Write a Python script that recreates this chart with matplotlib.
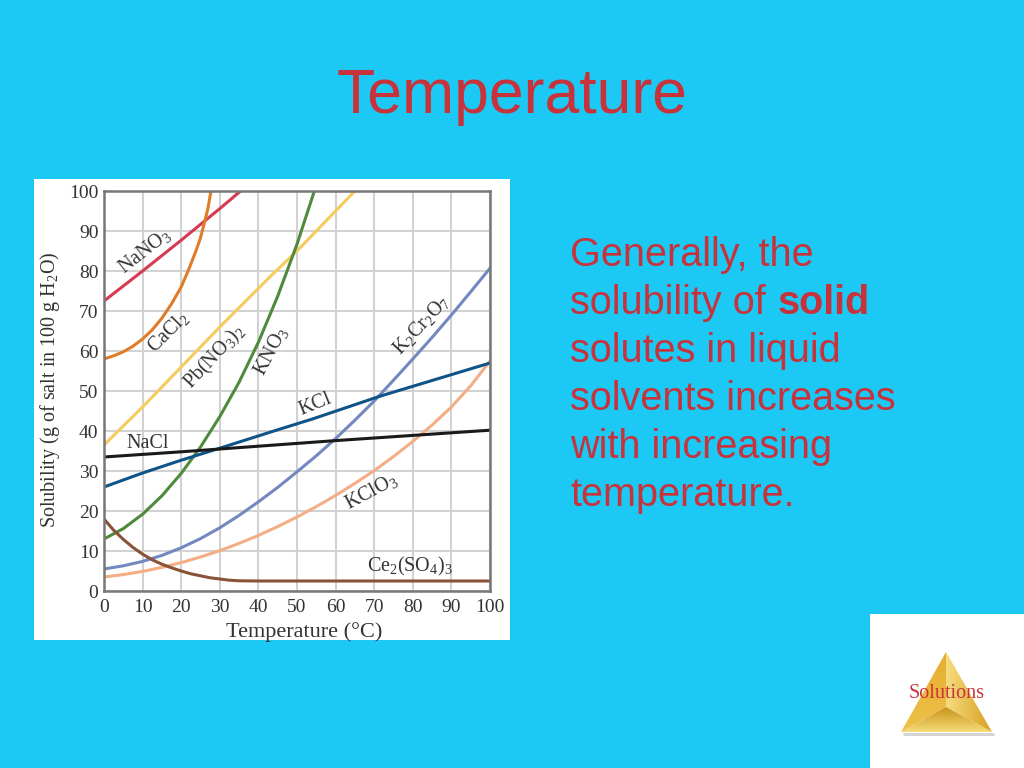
import matplotlib
matplotlib.use('Agg')
import matplotlib.pyplot as plt
import numpy as np
from matplotlib.patches import Polygon, Rectangle

plt.rcParams['mathtext.fontset'] = 'custom'
plt.rcParams['mathtext.rm'] = 'Liberation Serif'
plt.rcParams['mathtext.default'] = 'rm'

W, H = 1024, 768
BG = '#1CC8F4'
RED = '#C8323A'

# values
t_nano3 = [0, 10, 20, 30, 35.4]
s_nano3 = [72.5, 80, 87.7, 95.6, 100]
t_cacl2 = [0, 2.5, 5, 7.5, 10, 12.5, 15, 17.5, 20, 22, 24, 25, 26, 27, 27.7]
s_cacl2 = [58, 58.8, 59.8, 61.2, 63, 65.3, 68.2, 71.8, 76, 80.5, 85.5, 88.3, 92, 96, 100]
t_pb = [0, 10, 20, 30, 44, 50, 65]
s_pb = [36.5, 46, 56, 66, 79.5, 85, 100]
t_kno3 = [0, 5, 10, 15, 20, 25, 30, 35, 40, 45, 50, 54.5]
s_kno3 = [13, 15.6, 19.2, 23.8, 29.4, 36, 43.6, 52.2, 62.2, 73.7, 86.7, 100]
t_k2cr = [0, 5, 10, 15, 20, 25, 30, 35, 40, 45, 50, 55, 60, 65, 70, 75, 80, 85, 90, 95, 100]
s_k2cr = [5.5, 6.3, 7.4, 8.9, 10.8, 13.1, 15.8, 18.9, 22.3, 25.9, 29.8, 33.8, 38.1, 42.7, 47.5, 52.7, 58, 63.4, 69, 74.8, 80.7]
t_kcl = [0, 10, 20, 30, 44, 54, 71.5, 100]
s_kcl = [26, 29.5, 32.7, 35.7, 40, 43, 48.7, 57]
t_nacl = [0, 20, 40, 60, 80, 100]
s_nacl = [33.5, 34.8, 36.2, 37.6, 38.9, 40.2]
t_kclo3 = [0, 5, 10, 15, 20, 25, 30, 35, 40, 45, 50, 55, 60, 65, 70, 75, 80, 85, 90, 95, 100]
s_kclo3 = [3.5, 4.1, 4.9, 5.9, 7.1, 8.5, 10.1, 11.9, 13.9, 16.1, 18.5, 21.1, 23.9, 26.9, 30.1, 33.6, 37.4, 41.5, 46, 51.3, 57.5]
t_ce = [0, 2.5, 5, 7.5, 10, 12.5, 15, 17.5, 20, 22.5, 25, 27.5, 30, 32.5, 35, 40, 60, 80, 100]
s_ce = [18, 15.2, 12.9, 10.9, 9.2, 7.8, 6.7, 5.8, 5, 4.3, 3.8, 3.3, 3, 2.7, 2.55, 2.5, 2.5, 2.5, 2.5]

xticks = [0, 10, 20, 30, 40, 50, 60, 70, 80, 90, 100]
yticks = [0, 10, 20, 30, 40, 50, 60, 70, 80, 90, 100]

body = ['Generally, the', 'solubility of', 'solutes in liquid', 'solvents increases',
        'with increasing', 'temperature.']

fig = plt.figure(figsize=(W / 100, H / 100), dpi=100, facecolor=BG)

# full page layer, in pixels
page = fig.add_axes([0, 0, 1, 1])
page.set_xlim(0, W)
page.set_ylim(H, 0)
page.axis('off')

page.add_patch(Rectangle((34, 179), 476, 461, fc='white', ec='none'))
page.add_patch(Rectangle((870, 614), 154, 154, fc='white', ec='none'))

page.text(512, 113, 'Temperature', color=RED, fontsize=45, family='Liberation Sans',
          ha='center', va='baseline')

base = 266
for i, line in enumerate(body):
    page.text(570, base + i * 48, line, color=RED, fontsize=28.5, family='Liberation Sans',
              va='baseline')
page.text(778, 314, 'solid', color=RED, fontsize=28.5, family='Liberation Sans',
          weight='bold', va='baseline')

# pyramid logo, three facets with their own gradient
apex, left, right, mid = (946, 652), (901, 732), (992, 732), (946, 707)
page.add_patch(Polygon([(903, 733), (994, 733), (995, 736), (904, 736)], fc='#b8b8b8', ec='none', alpha=0.6, zorder=2))


def facet(pts, c1, c2, horizontal=False):
    pts = np.array(pts)
    n = 64
    ramp = np.linspace(0, 1, n)
    rgb = np.outer(1 - ramp, matplotlib.colors.to_rgb(c1)) + np.outer(ramp, matplotlib.colors.to_rgb(c2))
    img = rgb[np.newaxis, :, :] if horizontal else rgb[:, np.newaxis, :]
    x0, x1, y0, y1 = pts[:, 0].min(), pts[:, 0].max(), pts[:, 1].min(), pts[:, 1].max()
    # images sit under patches by default, the white square would hide them
    im = page.imshow(img, extent=[x0, x1, y1, y0], aspect='auto', interpolation='bilinear', zorder=3)
    poly = Polygon(pts, transform=page.transData, fc='none', ec='none')
    page.add_patch(poly)
    im.set_clip_path(poly)


facet([apex, left, mid], '#E5AE2E', '#EFC24A')
facet([apex, right, mid], '#F5DC80', '#D8A01E', horizontal=True)
facet([left, right, mid], '#C8921A', '#F6DC78')
page.set_xlim(0, W)
page.set_ylim(H, 0)

page.text(947, 698, 'Solutions', color=RED, fontsize=14.5, family='Liberation Serif',
          ha='center', va='baseline', zorder=5)

# the chart itself
ax = fig.add_axes([104 / W, 1 - 591 / H, 386 / W, 400 / H], facecolor='white')

ax.plot(t_nano3, s_nano3, color='#D63B52', lw=2.2)
ax.plot(t_cacl2, s_cacl2, color='#E07C28', lw=2.2)
ax.plot(t_pb, s_pb, color='#F6CB5E', lw=2.2)
ax.plot(t_kclo3, s_kclo3, color='#F4AE86', lw=2.2)
ax.plot(t_kno3, s_kno3, color='#4F8A3C', lw=2.2)
ax.plot(t_k2cr, s_k2cr, color='#7488C0', lw=2.2)
ax.plot(t_kcl, s_kcl, color='#0F5488', lw=2.2)
ax.plot(t_nacl, s_nacl, color='#1A1A1A', lw=2.2)
ax.plot(t_ce, s_ce, color='#8A5238', lw=2.2)

ax.set_xlim(0, 100)
ax.set_ylim(0, 100)
ax.set_xticks(xticks)
ax.set_yticks(yticks)
ax.grid(color='#D2D2D2', lw=1.5)
ax.set_axisbelow(True)
ax.tick_params(length=0, labelsize=14, labelcolor='#333333')
ax.tick_params(axis='x', pad=6)
ax.tick_params(axis='y', pad=4)
for lab in ax.get_xticklabels() + ax.get_yticklabels():
    lab.set_family('Liberation Serif')
for sp in ax.spines.values():
    sp.set_color('#777777')
    sp.set_linewidth(1.8)

ax.set_xlabel('Temperature (°C)', family='Liberation Serif', color='#333333', fontsize=16)
ax.set_ylabel('Solubility (g of salt in 100 g H$_2$O)', family='Liberation Serif', color='#333333', fontsize=14.5)
ax.xaxis.set_label_coords(0.518, -0.077)
ax.yaxis.set_label_coords(-0.108, 0.5025)

names = ['NaNO$_3$', 'CaCl$_2$', 'Pb(NO$_3$)$_2$', 'KNO$_3$', 'K$_2$Cr$_2$O$_7$',
         'KCl', 'NaCl', 'KClO$_3$', 'Ce$_2$(SO$_4$)$_3$']
name_x = [10.6, 16.6, 28.8, 43.3, 82.3, 54.7, 11.2, 69.2, 79.3]
name_y = [85, 64.7, 58.5, 60, 66.6, 46.5, 37, 24.8, 6.2]
name_rot = [38, 45, 47, 62, 47, 22, 0, 28, 0]
for n, x, y, r in zip(names, name_x, name_y, name_rot):
    ax.text(x, y, n, rotation=r, rotation_mode='anchor', ha='center', va='center',
            family='Liberation Serif', color='#333333', fontsize=14.5)

fig.savefig('out.png', dpi=100, facecolor=BG)
